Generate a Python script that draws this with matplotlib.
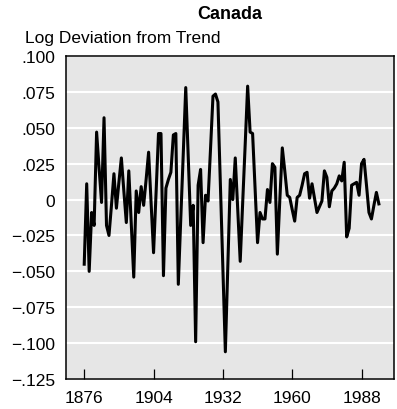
import matplotlib
matplotlib.use("Agg")
import matplotlib.pyplot as plt

# annual log deviation from trend
years = list(range(1876, 1996))
deviation = [
    -0.045, 0.011, -0.050, -0.009, -0.018, 0.047, 0.022, -0.002, 0.057, -0.018,   # 1876-1885
    -0.025, -0.004, 0.018, -0.006, 0.012, 0.029, 0.006, -0.016, 0.020, -0.017,    # 1886-1895
    -0.054, 0.006, -0.009, 0.009, -0.004, 0.014, 0.033, -0.002, -0.037, 0.004,    # 1896-1905
    0.046, 0.046, -0.053, 0.008, 0.014, 0.019, 0.045, 0.046, -0.059, -0.013,      # 1906-1915
    0.032, 0.078, 0.030, -0.018, -0.004, -0.099, 0.010, 0.021, -0.030, 0.003,     # 1916-1925
    -0.001, 0.035, 0.072, 0.0735, 0.068, 0.010, -0.048, -0.106, -0.046, 0.014,    # 1926-1935
    0.000, 0.029, -0.007, -0.043, -0.002, 0.038, 0.079, 0.047, 0.046, 0.008,      # 1936-1945
    -0.030, -0.009, -0.0135, -0.0135, 0.007, -0.002, 0.025, 0.0225, -0.038, 0.000,  # 1946-1955
    0.036, 0.020, 0.003, 0.0015, -0.007, -0.015, 0.0015, 0.003, 0.010, 0.018,     # 1956-1965
    0.019, 0.001, 0.011, 0.001, -0.009, -0.005, -0.001, 0.020, 0.0155, -0.005,    # 1966-1975
    0.006, 0.008, 0.011, 0.0165, 0.013, 0.026, -0.026, -0.020, 0.010, 0.011,      # 1976-1985
    0.012, 0.003, 0.025, 0.028, 0.010, -0.009, -0.0135, -0.004, 0.005, -0.003,    # 1986-1995
]

y_ticks = [0.100, 0.075, 0.050, 0.025, 0.0, -0.025, -0.050, -0.075, -0.100, -0.125]
x_ticks = [1876, 1904, 1932, 1960, 1988]


def fmt(v):
    if abs(v) < 1e-9:
        return "0"
    s = f"{abs(v):.3f}"[1:]
    return ("\u2212" if v < 0 else "") + s


plt.rcParams['font.family'] = ['Liberation Sans', 'DejaVu Sans']

fig = plt.figure(figsize=(3.97, 4.10), dpi=100)
ax = fig.add_axes([0.166, 0.073, 0.827, 0.788])
ax.set_facecolor('#e6e6e6')

for v in y_ticks:
    ax.axhline(v, color='white', linewidth=1.5, zorder=1)

ax.plot(years, deviation, color='black', linewidth=2.2, zorder=3)

ax.set_xlim(1868.6, 2001.2)
ax.set_ylim(-0.125, 0.100)
ax.set_yticks(y_ticks)
ax.set_yticklabels([fmt(v) for v in y_ticks])
ax.set_xticks(x_ticks)
ax.set_xticklabels([str(x) for x in x_ticks])
ax.tick_params(axis='y', length=0, pad=8, labelsize=12.5)
ax.tick_params(axis='x', direction='in', length=7, width=0.9, pad=8, labelsize=12.5)

for sp in ax.spines.values():
    sp.set_linewidth(1.1)
    sp.set_color('black')

fig.text(0.579, 0.965, "Canada", ha='center', va='center', fontsize=13, fontweight='bold')
fig.text(0.063, 0.907, "Log Deviation from Trend", ha='left', va='center', fontsize=12.5)

fig.savefig("out.png", dpi=100)
